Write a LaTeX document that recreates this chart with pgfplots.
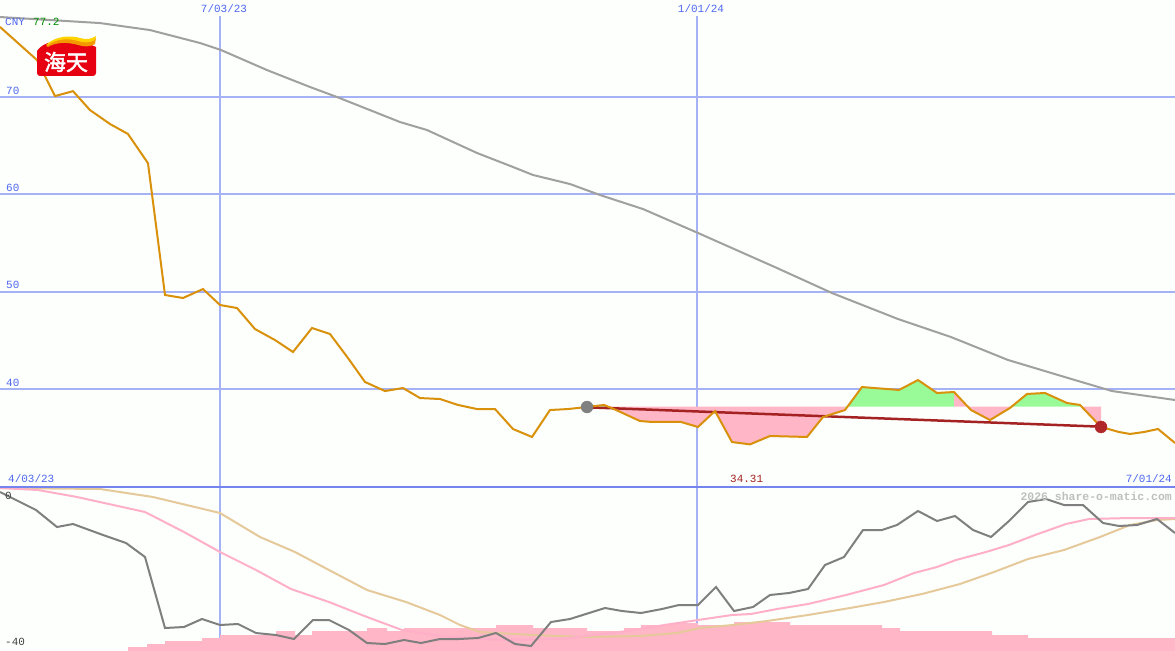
\documentclass[border=0pt]{standalone}
\usepackage{pgfplots}
\pgfplotsset{compat=1.18}
\usepackage{fontspec}
\setmonofont{Liberation Mono}
\newfontfamily\cjk[FakeBold=2]{Noto Sans CJK SC}

\definecolor{bgc}{HTML}{FCFFFC}
\definecolor{gridc}{HTML}{A5B2F5}
\definecolor{sepc}{HTML}{7585F0}
\definecolor{lblblue}{HTML}{5068F0}
\definecolor{pricec}{HTML}{D9900A}
\definecolor{mac}{HTML}{A0A0A0}
\definecolor{pinkf}{HTML}{FFB6C6}
\definecolor{greenf}{HTML}{98FB98}
\definecolor{trendc}{HTML}{A52222}
\definecolor{dotred}{HTML}{B0282A}
\definecolor{relc}{HTML}{7F7F7F}
\definecolor{pinkl}{HTML}{FFB0C8}
\definecolor{tanl}{HTML}{E6C99A}
\definecolor{logored}{HTML}{E60012}
\definecolor{logoyel}{HTML}{FFD200}
\definecolor{logoora}{HTML}{F39800}

\newcommand\lbl{\fontsize{11}{11}\selectfont\ttfamily}

\begin{document}
\begin{tikzpicture}
% ---- price panel
\begin{axis}[
    name=top,
    width=1175bp, height=487bp, scale only axis,
    xmin=0, xmax=1175, ymin=29.93, ymax=79.97,
    axis line style={draw=none}, ticks=none,
    axis background/.style={fill=bgc},
]
\draw[gridc, line width=2bp] (axis cs:0,70) -- (axis cs:1175,70);
\draw[gridc, line width=2bp] (axis cs:0,60) -- (axis cs:1175,60);
\draw[gridc, line width=2bp] (axis cs:0,50) -- (axis cs:1175,50);
\draw[gridc, line width=2bp] (axis cs:0,40) -- (axis cs:1175,40);
\draw[gridc, line width=2bp] (axis cs:220,29.93) -- (axis cs:220,78.3);
\draw[gridc, line width=1.2bp] (axis cs:697,29.93) -- (axis cs:697,78.3);

% long moving average
\addplot[mac, line width=2bp] coordinates {
(0,78.22)(50,77.91)(100,77.60)(150,76.88)(200,75.55)(221,74.83)(267,72.77)
(310,71.03)(337,70.00)(400,67.43)(427,66.61)(477,64.25)(513,62.81)(533,61.99)
(570,61.06)(600,59.93)(643,58.49)(698,56.03)(777,52.43)(832,49.86)(898,47.19)
(951,45.34)(1008,42.98)(1068,41.13)(1112,39.79)(1175,38.87)};

% areas against the reference level
\addplot[greenf, fill=greenf, draw=none] coordinates {
(587,38.15)(604,38.36)(604,38.2)(587,38.2)};
\addplot[pinkf, fill=pinkf, draw=none] coordinates {
(604,38.36)(614,37.94)(640,36.71)(652,36.61)(681,36.61)(698,36.10)(715,37.74)
(732,34.55)(750,34.31)(770,35.17)(807,35.07)(823,37.12)(845,37.84)(845,38.2)(604,38.2)};
\addplot[greenf, fill=greenf, draw=none] coordinates {
(845,37.84)(862,40.20)(899,39.90)(918,40.92)(937,39.59)(954,39.69)(954,38.2)(845,38.2)};
\addplot[pinkf, fill=pinkf, draw=none] coordinates {
(954,39.69)(971,37.84)(990,36.81)(1010,38.05)(1010,38.2)(954,38.2)};
\addplot[greenf, fill=greenf, draw=none] coordinates {
(1010,38.05)(1027,39.49)(1045,39.59)(1067,38.56)(1080,38.36)(1080,38.2)(1010,38.2)};
\addplot[pinkf, fill=pinkf, draw=none] coordinates {
(1080,38.36)(1101,36.10)(1101,38.2)(1080,38.2)};

% trend line
\addplot[trendc, line width=2.5bp] coordinates {(587,38.12)(1101,36.13)};

% end points
\addplot[only marks, mark=*, mark size=6bp, mark options={fill=gray, draw=gray}] coordinates {(587,38.15)};
\addplot[only marks, mark=*, mark size=6bp, mark options={fill=dotred, draw=dotred}] coordinates {(1101,36.10)};

% price
\addplot[pricec, line width=2bp] coordinates {
(0,77.2)(37,73.8)(55,70.1)(73,70.6)(90,68.66)(110,67.23)(128,66.2)(148,63.2)
(165,49.66)(183,49.35)(203,50.27)(220,48.63)(237,48.32)(255,46.16)(275,45.03)
(293,43.80)(312,46.27)(330,45.65)(348,43.18)(365,40.72)(385,39.79)(403,40.10)
(420,39.07)(440,38.97)(458,38.36)(477,37.94)(495,37.94)(513,35.89)(532,35.07)
(550,37.84)(568,37.94)(587,38.15)(604,38.36)(614,37.94)(640,36.71)(652,36.61)
(681,36.61)(698,36.10)(715,37.74)(732,34.55)(750,34.31)(770,35.17)(807,35.07)
(823,37.12)(845,37.84)(862,40.20)(899,39.90)(918,40.92)(937,39.59)(954,39.69)
(971,37.84)(990,36.81)(1010,38.05)(1027,39.49)(1045,39.59)(1067,38.56)(1080,38.36)
(1101,36.10)(1119,35.58)(1130,35.38)(1144,35.58)(1158,35.89)(1175,34.45)};
\end{axis}

% ---- relative panel
\begin{axis}[
    name=bot,
    at={(top.south west)}, anchor=north west,
    width=1175bp, height=163bp, scale only axis,
    xmin=0, xmax=1175, ymin=-40.25, ymax=0.5,
    axis line style={draw=none}, ticks=none,
    axis background/.style={fill=bgc},
]
\draw[gridc, line width=2bp] (axis cs:220,-40.25) -- (axis cs:220,0.5);
\draw[gridc, line width=1.2bp] (axis cs:697,-40.25) -- (axis cs:697,0.5);

% volume-like steps
\addplot[const plot, fill=pinkf, draw=none] coordinates {
(128,-41)(128,-39.5)(147,-38.75)(165,-38)(202,-37.25)(220,-36.5)(276,-35.5)
(295,-36.5)(312,-35.5)(367,-34.75)(387,-35.5)(404,-34.75)(496,-34)(533,-34.75)
(587,-35.5)(624,-34.75)(641,-34)(671,-33.5)(698,-34)(734,-33.25)(790,-34)
(882,-34.75)(900,-35.5)(992,-36.5)(1028,-37.25)(1175,-37.25)(1175,-41)(128,-41)};

\addplot[tanl, line width=2bp] coordinates {
(0,0.25)(100,0)(153,-2)(220,-6)(260,-12)(295,-15.75)(329,-20.25)(367,-25.25)
(406,-28.25)(440,-31.5)(460,-34)(480,-35.75)(533,-36.5)(583,-37)(640,-36.75)
(677,-36)(700,-34.75)(733,-34)(767,-33)(808,-31.5)(850,-29.75)(884,-28.25)
(922,-26.25)(960,-23.75)(994,-20.75)(1028,-17.5)(1064,-15.25)(1100,-12)
(1130,-9)(1157,-7.75)(1175,-7.5)};

\addplot[pinkl, line width=2bp] coordinates {
(0,0.25)(38,-0.25)(77,-2)(145,-5.75)(184,-10.75)(220,-15.75)(256,-20.25)
(291,-25)(329,-28.25)(367,-32)(402,-35.25)(440,-36.75)(500,-37.75)(560,-37.5)
(620,-35.75)(671,-33.75)(698,-32.75)(732,-31.5)(751,-31.25)(777,-30)(808,-28.75)
(846,-26.5)(884,-24)(914,-21)(937,-19.5)(956,-17.75)(986,-15.75)(1009,-14)
(1035,-11.5)(1066,-8.75)(1089,-7.5)(1130,-7.25)(1175,-7.25)};

\addplot[relc, line width=2bp] coordinates {
(0,-0.75)(36,-5.25)(57,-9.5)(73,-8.75)(103,-11.5)(126,-13.5)(145,-17)(165,-34.75)
(184,-34.5)(202,-32.5)(220,-34)(238,-33.75)(256,-36)(276,-36.5)(294,-37.5)
(313,-32.75)(329,-32.75)(349,-35.25)(367,-38.5)(385,-38.75)(404,-37.75)(421,-38.5)
(440,-37.5)(459,-37.5)(478,-37.25)(496,-36)(515,-38.75)(531,-39.25)(551,-33.25)
(570,-32.5)(605,-29.75)(622,-30.5)(641,-31)(662,-30)(679,-29)(698,-29)(716,-24.5)
(734,-30.5)(753,-29.5)(770,-26.5)(789,-26)(808,-25)(825,-19)(844,-17)(863,-10.25)
(882,-10.25)(897,-9)(918,-5.5)(937,-8)(955,-6.75)(973,-10.25)(991,-12)(1009,-8)
(1028,-3.25)(1046,-2.5)(1064,-4)(1083,-4)(1103,-8.5)(1119,-9.25)(1137,-9)
(1157,-7.5)(1175,-11)};
\end{axis}

% ---- labels and logo, in pixel units from the top-left corner
\begin{scope}[shift={(top.north west)}, x=1bp, y=-1bp]
\draw[sepc, line width=2.5bp] (0,487) -- (1175,487);
\node[anchor=base west, inner sep=0, lblblue, font=\lbl] at (5,26) {CNY};
\node[anchor=base west, inner sep=0, green!55!black, font=\lbl] at (33,26) {77.2};
\node[anchor=base, inner sep=0, lblblue, font=\lbl] at (224,13) {7/03/23};
\node[anchor=base, inner sep=0, lblblue, font=\lbl] at (701,13) {1/01/24};
\node[anchor=base west, inner sep=0, lblblue, font=\lbl] at (6,95) {70};
\node[anchor=base west, inner sep=0, lblblue, font=\lbl] at (6,192) {60};
\node[anchor=base west, inner sep=0, lblblue, font=\lbl] at (6,289) {50};
\node[anchor=base west, inner sep=0, lblblue, font=\lbl] at (6,387) {40};
\node[anchor=base west, inner sep=0, lblblue, font=\lbl] at (8,483) {4/03/23};
\node[anchor=base east, inner sep=0, lblblue, font=\lbl] at (1172,483) {7/01/24};
\node[anchor=base west, inner sep=0, trendc, font=\lbl] at (730,483) {34.31};
\node[anchor=base east, inner sep=0, black!25, font=\fontsize{11.5}{11.5}\selectfont\ttfamily\bfseries] at (1172,501) {2026 share-o-matic.com};
\node[anchor=base west, inner sep=0, black!75, font=\lbl] at (5,500) {0};
\node[anchor=base west, inner sep=0, black!75, font=\lbl] at (5,646) {-40};
% logo
\fill[logored] (40,76) arc[start angle=90, end angle=180, radius=3] -- (37,51)
  .. controls (42,44) and (50,41) .. (62,41) .. controls (75,41) and (88,43) .. (96,47)
  -- (96,73) arc[start angle=0, end angle=90, radius=3] -- cycle;
\fill[logoora] (46,46) .. controls (55,38) and (70,37) .. (80,40) .. controls (86,42) and (92,41) .. (96,38)
  -- (95,44) .. controls (90,47) and (84,47) .. (78,45) .. controls (68,42) and (56,42) .. (48,47) -- cycle;
\fill[logoyel] (46,45) .. controls (55,36) and (70,35) .. (80,38) .. controls (86,40) and (92,39) .. (96,36)
  -- (95,40) .. controls (90,43) and (84,43) .. (78,41) .. controls (68,38) and (56,39) .. (48,45) -- cycle;
\node[white, inner sep=0, font=\cjk\fontsize{22}{22}\selectfont] at (66,62) {海天};
\end{scope}

\pgfresetboundingbox
\path (top.north west) rectangle (bot.south east);
\end{tikzpicture}
\end{document}
